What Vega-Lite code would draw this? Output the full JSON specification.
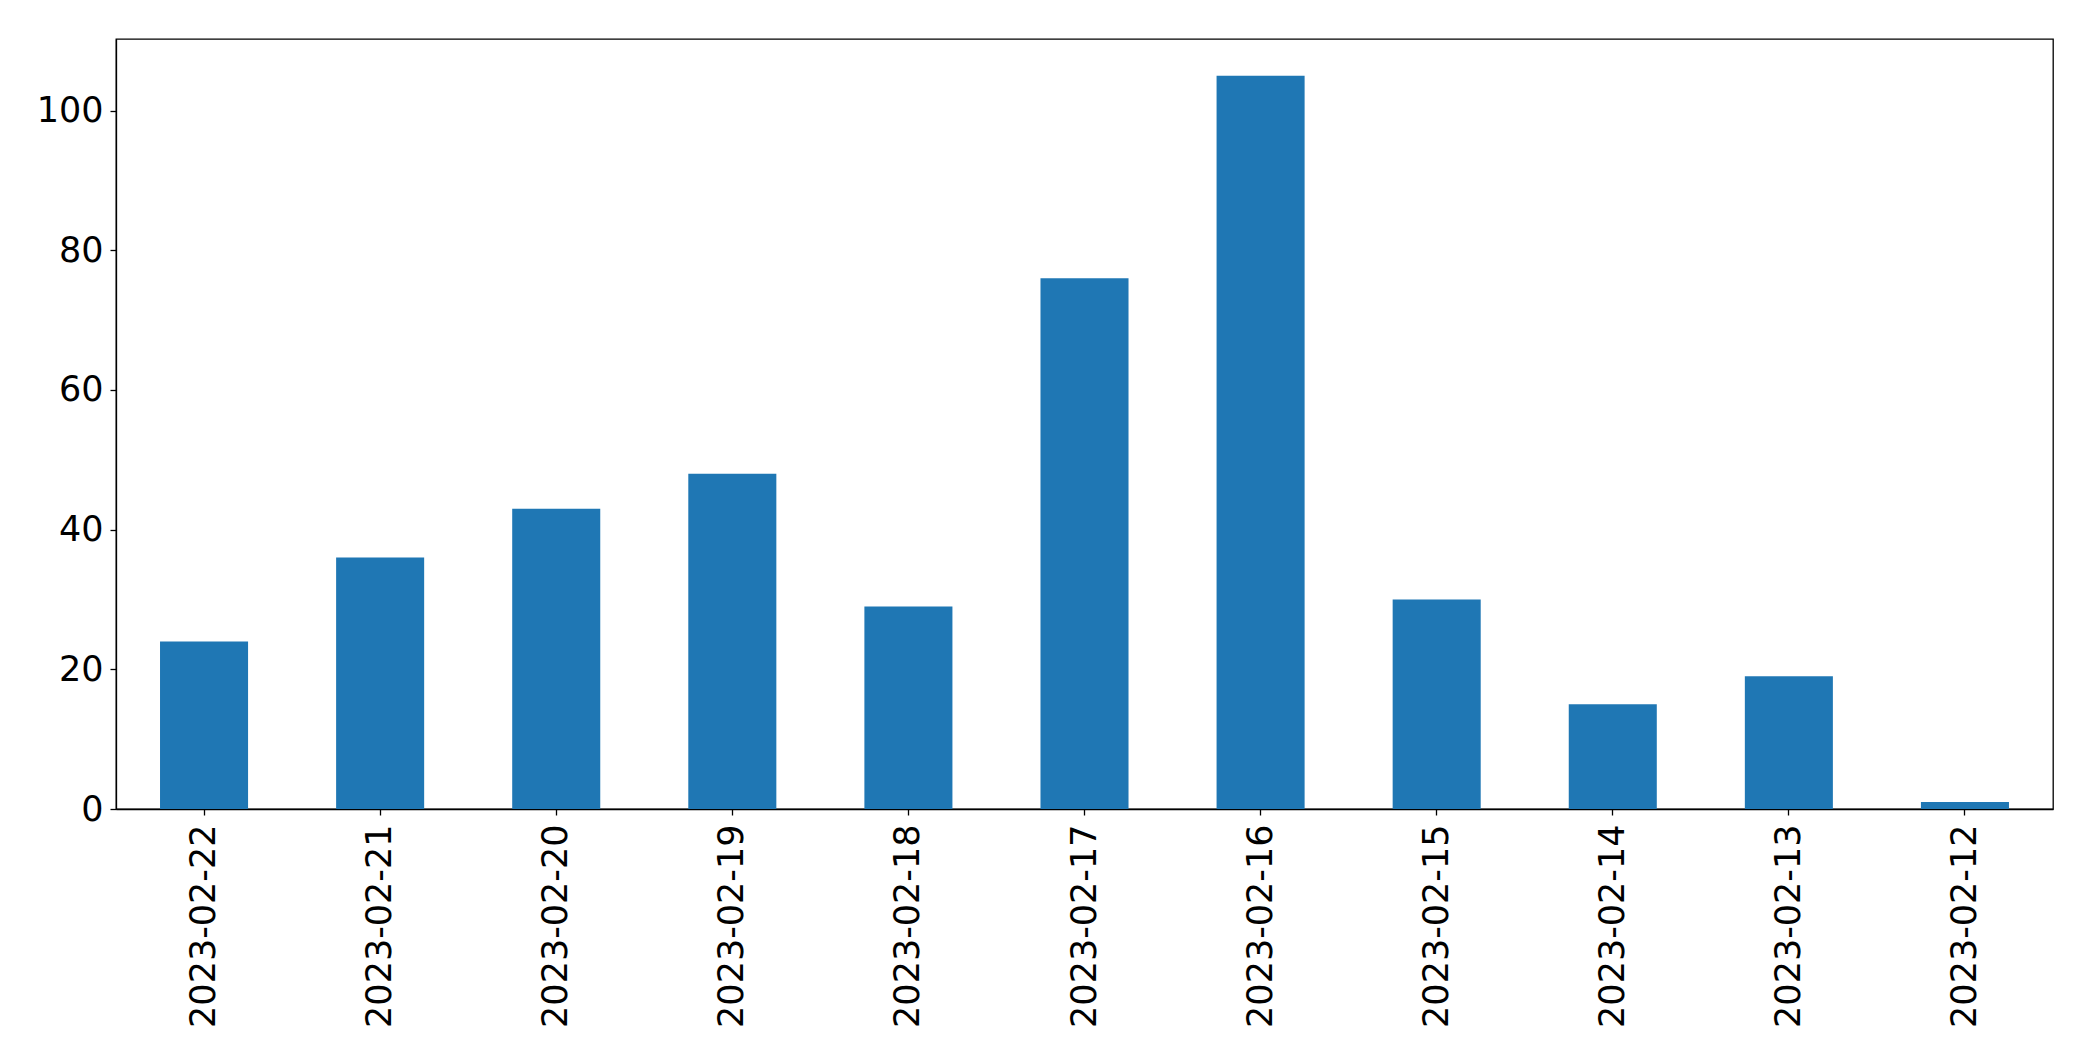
{
  "$schema": "https://vega.github.io/schema/vega-lite/v6.json",
  "width": 1937,
  "height": 770,
  "autosize": {"type": "none"},
  "padding": {"left": 116, "top": 39, "right": 40, "bottom": 252},
  "background": "white",
  "config": {
    "view": {"stroke": "black", "strokeWidth": 1.3},
    "axis": {
      "labelFont": "DejaVu Sans",
      "labelFontSize": 35,
      "labelColor": "black",
      "labelLimit": 0,
      "domainColor": "black",
      "domainWidth": 1.3,
      "tickColor": "black",
      "tickWidth": 1.3,
      "tickSize": 6,
      "grid": false,
      "title": null
    }
  },
  "data": {
    "values": [
      {"date": "2023-02-22", "count": 24},
      {"date": "2023-02-21", "count": 36},
      {"date": "2023-02-20", "count": 43},
      {"date": "2023-02-19", "count": 48},
      {"date": "2023-02-18", "count": 29},
      {"date": "2023-02-17", "count": 76},
      {"date": "2023-02-16", "count": 105},
      {"date": "2023-02-15", "count": 30},
      {"date": "2023-02-14", "count": 15},
      {"date": "2023-02-13", "count": 19},
      {"date": "2023-02-12", "count": 1}
    ]
  },
  "mark": {"type": "bar", "color": "#1f77b4"},
  "encoding": {
    "x": {
      "field": "date",
      "type": "nominal",
      "sort": null,
      "scale": {"paddingInner": 0.5, "paddingOuter": 0.25},
      "axis": {"labelAngle": -90, "labelPadding": 9, "labelAlign": "right", "labelBaseline": "middle", "labelLimit": 0}
    },
    "y": {
      "field": "count",
      "type": "quantitative",
      "scale": {"domain": [0, 110.25], "nice": false},
      "axis": {"values": [0, 20, 40, 60, 80, 100], "labelPadding": 7}
    }
  }
}
